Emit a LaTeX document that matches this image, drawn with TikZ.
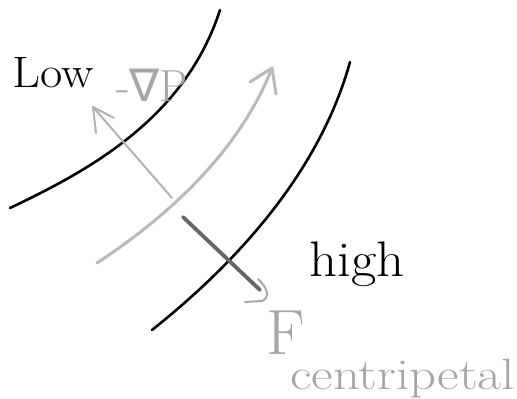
\documentclass[tikz,border=0pt]{standalone}
\usepackage{fontspec}
\newfontfamily\djv{DejaVu Sans}
\usetikzlibrary{calc}
\begin{document}
\begin{tikzpicture}[x=1pt,y=-1pt,
  isobar/.style={line width=2.6pt,black,line cap=round},
  flowarr/.style={line width=3pt,gray!55,line cap=round,line join=round},
  gradarr/.style={line width=2pt,gray!60,line cap=round,line join=round},
  centarr/.style={line width=3.8pt,black!60,line cap=round,line join=round},
  lbl/.style={inner sep=0pt,font=\fontsize{44}{48}\selectfont}]
\useasboundingbox (0,0) rectangle (517,399);
% isobars
\draw[isobar] (10,208) .. controls (90,170) and (185,118) .. (220,10);
\draw[isobar] (152,330) .. controls (240,260) and (320,170) .. (350,62);
% flow arrow
\coordinate (f0) at (97,263);
\coordinate (f1) at (272,68);
\draw[flowarr] (f0) .. controls (170,215) and (240,150) .. (f1);
\draw[flowarr] (250,82) -- (f1) -- (276,94);
% pressure gradient arrow
\coordinate (g0) at (172,198);
\coordinate (g1) at (93,107);
\draw[gradarr] (g0) -- (g1);
\draw[gradarr] (114,118) -- (g1) -- (96,133);
% centripetal arrow
\coordinate (c0) at (183,217);
\coordinate (c1) at (260,290);
\draw[centarr] (c0) -- (c1);
\draw[line width=2pt,gray!70,line cap=round,line join=round]
  (258,279) .. controls (268,288) and (270,298) .. (262,301) -- (245,302);
% labels
\node[lbl,anchor=base west] (low) at (12,87) {\scalebox{1.1}[1]{Low}};
\node[lbl,anchor=base west,font=\fontsize{45}{49}\selectfont,text=gray!70] (grad) at (116,101) {-{\djv ∇}P};
\node[lbl,anchor=base west,font=\fontsize{50}{54}\selectfont] (high) at (309,276) {\scalebox{1.1}[1]{high}};
\node[lbl,anchor=base west,font=\fontsize{64}{68}\selectfont,text=gray!70] (F) at (266,354) {F};
\node[lbl,anchor=base west,font=\fontsize{44}{48}\selectfont,text=gray!70] (cent) at (290,389) {\scalebox{1.2}[1]{centripetal}};
\end{tikzpicture}
\end{document}
